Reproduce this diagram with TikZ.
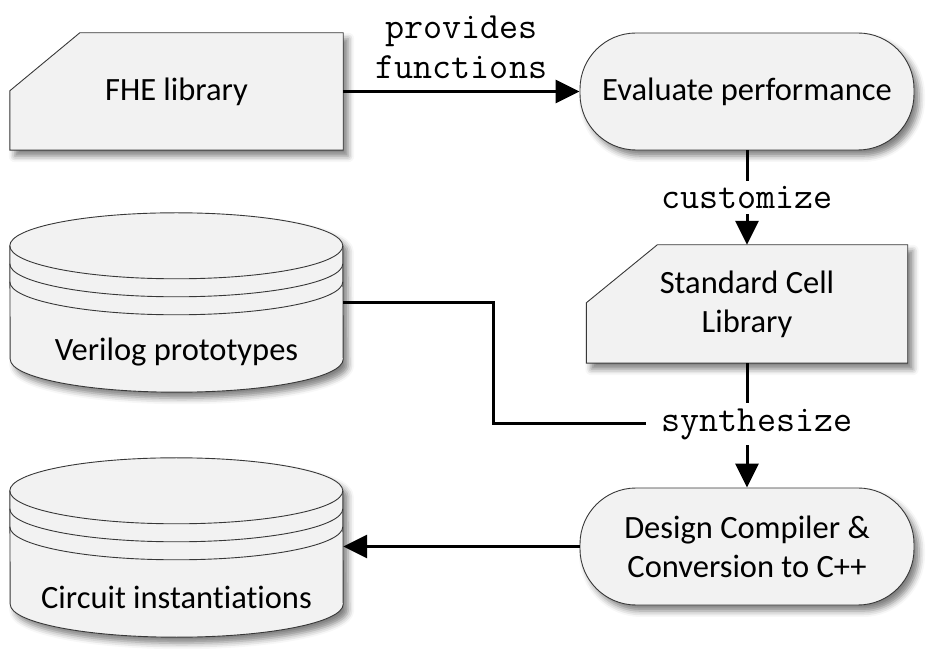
\documentclass[tikz,border=0pt]{standalone}
\usepackage{fontspec}
\setmainfont[Ligatures=NoCommon]{Carlito}
\usetikzlibrary{arrows.meta,shadows.blur,backgrounds}
\definecolor{shapefill}{HTML}{F2F2F2}
\definecolor{shapeline}{HTML}{383838}

\begin{document}
\begin{tikzpicture}[x=1pt, y=1pt,
    every node/.style={font=\fontsize{32.5pt}{39pt}\selectfont},
    outline/.style={draw=shapeline, line width=0.9pt, fill=shapefill},
    softshadow/.style={blur shadow={shadow xshift=5pt, shadow yshift=-6pt,
        shadow blur radius=6pt, shadow opacity=50}},
    slot/.style={inner sep=0pt, minimum width=333pt, minimum height=117pt, align=center},
    pill/.style={slot, outline, softshadow, rounded corners=56pt, minimum width=334pt},
    wire/.style={line width=3pt, -{Triangle[length=24pt, width=23pt]}},
    tag/.style={font=\ttfamily\fontsize{37pt}{40pt}\selectfont, fill=white, inner sep=5pt, align=center}
  ]
  \useasboundingbox (0,0) rectangle (942,664);

  % Top row
  \node[slot] (fhe) at (176.5,572.5) {FHE library};
  \node[pill] (eval) at (747,572.5) {Evaluate performance};

  % Middle row
  \node[slot, minimum height=179pt] (verilog) at (176.5,361.5) {};
  \node (verilogtext) at (176.5,312) {Verilog prototypes};
  \node[slot, minimum width=321pt, minimum height=118pt] (stdcell) at (747,360) {Standard Cell\\Library};

  % Bottom row
  \node[slot, minimum height=179pt] (circuit) at (176.5,116.5) {};
  \node (circuittext) at (176.5,67) {Circuit instantiations};
  \node[pill] (design) at (747,117.5) {Design Compiler \&\\Conversion to C++};

  % Cards and drums behind the texts
  \begin{scope}[on background layer]
    \path[outline, softshadow] ([xshift=70pt]fhe.north west) -- (fhe.north east)
      -- (fhe.south east) -- (fhe.south west) -- ([yshift=-58pt]fhe.north west) -- cycle;
    \path[outline, softshadow] ([xshift=71pt]stdcell.north west) -- (stdcell.north east)
      -- (stdcell.south east) -- (stdcell.south west) -- ([yshift=-58pt]stdcell.north west) -- cycle;
    \foreach \db in {verilog, circuit} {
      \path[outline, softshadow] ([yshift=-33pt]\db.north west)
        arc[start angle=180, end angle=0, x radius=166.5pt, y radius=33pt]
        -- ([yshift=33pt]\db.south east)
        arc[start angle=0, end angle=-180, x radius=166.5pt, y radius=33pt] -- cycle;
      \foreach \dy in {-33pt,-51pt,-69pt}
        \draw[draw=shapeline, line width=0.9pt] ([yshift=\dy]\db.north west)
          arc[start angle=180, end angle=360, x radius=166.5pt, y radius=33pt];
    }
  \end{scope}

  % Connectors
  \draw[wire] (fhe.east) -- node[tag, above=11pt, fill=none, inner sep=0pt] (provides) {provides\\functions} (eval.west);
  \draw[wire] (eval.south) -- node[tag] (customize) {customize} (stdcell.north);
  \draw[wire] (stdcell.south) -- (design.north);
  \node[tag, inner xsep=16pt] (synth) at (757,240) {synthesize};
  \coordinate (jog) at (493,0);
  \draw[line width=3pt] (verilog.east) -| (jog |- synth.west) -- (synth.west);
  \draw[wire] (design.west) -- (design.west -| circuit.east);
\end{tikzpicture}
\end{document}
